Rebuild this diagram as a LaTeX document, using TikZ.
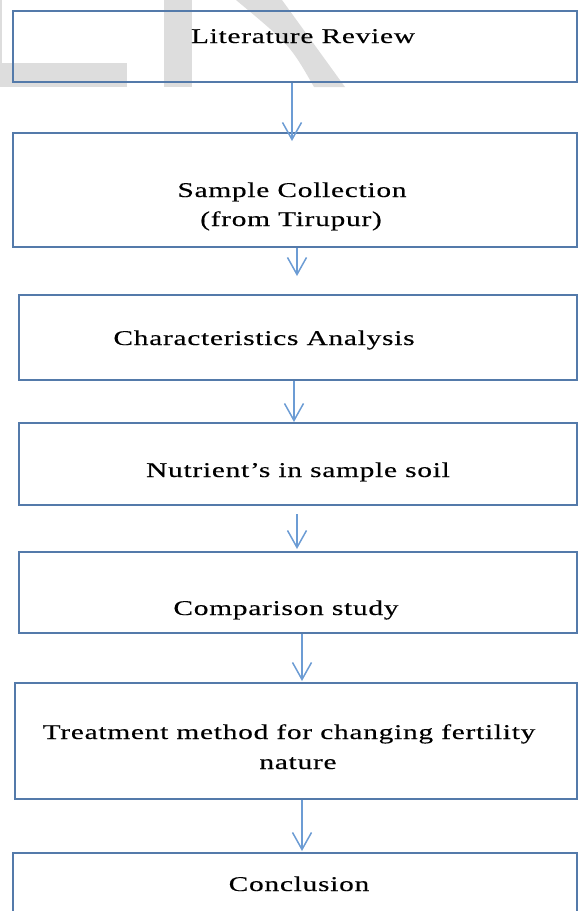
\documentclass[tikz,border=0pt]{standalone}
\usepackage{fontspec}
\setmainfont{Liberation Serif}[FakeStretch=1.4,LetterSpace=3.5,FakeBold=0.3]
\usetikzlibrary{arrows.meta}
\definecolor{boxc}{RGB}{84,122,170}
\definecolor{arrc}{RGB}{108,156,212}
\definecolor{wmc}{RGB}{221,221,221}
\begin{document}
\begin{tikzpicture}[x=1pt,y=-1pt,
  box/.style={draw=boxc, line width=2pt, inner sep=0pt, rectangle},
  lbl/.style={anchor=base, inner sep=0pt, font=\fontsize{21}{28}\selectfont, text=black},
  arr/.style={draw=arrc, line width=1.5pt, -{Straight Barb[length=17pt,width=19pt,line width=1.5pt]}},
  wmark/.style={fill=wmc, draw=none}]
\clip (0,0) rectangle (579,911);
% watermark fragments
\fill[wmark] (0,63) rectangle (127,87);
\fill[wmark] (0,0) rectangle (1.5,63);
\fill[wmark] (164,0) rectangle (192,87);
\fill[wmark] (236,0) -- (282,0) -- (345,87) -- (314,87) .. controls (290,45) .. cycle;
% boxes
\node[box, minimum width=564pt, minimum height=71pt]  (b1) at (295,46.5) {};
\node[box, minimum width=564pt, minimum height=114pt] (b2) at (295,190) {};
\node[box, minimum width=558pt, minimum height=85pt]  (b3) at (298,337.5) {};
\node[box, minimum width=558pt, minimum height=82pt]  (b4) at (298,464) {};
\node[box, minimum width=558pt, minimum height=81pt]  (b5) at (298,592.5) {};
\node[box, minimum width=562pt, minimum height=116pt] (b6) at (296,741) {};
\node[box, minimum width=564pt, minimum height=77pt]  (b7) at (295,891.5) {};
% labels
\node[lbl] (t1)  at (303,43)  {Literature Review};
\node[lbl] (t2a) at (292,197) {Sample Collection};
\node[lbl] (t2b) at (291,226) {(from Tirupur)};
\node[lbl] (t3)  at (264,345) {Characteristics Analysis};
\node[lbl] (t4)  at (298,477) {Nutrient’s in sample soil};
\node[lbl] (t5)  at (286,615) {Comparison study};
\node[lbl] (t6a) at (289,739) {Treatment method for changing fertility};
\node[lbl] (t6b) at (298,769) {nature};
\node[lbl] (t7)  at (299,891) {Conclusion};
% arrows
\draw[arr] ([xshift=-3pt]b1.south) -- ([xshift=-3pt,yshift=-9pt]b2.north);
\draw[arr] ([xshift=2pt]b2.south) -- ([xshift=-1pt,yshift=18pt]b3.north);
\draw[arr] ([xshift=-4pt]b3.south) -- ([xshift=-4pt]b4.north);
\draw[arr] ([xshift=-1pt,yshift=-8pt]b4.south) -- ([xshift=-1pt,yshift=2pt]b5.north);
\draw[arr] ([xshift=4pt]b5.south) -- ([xshift=6pt,yshift=1pt]b6.north);
\draw[arr] ([xshift=6pt]b6.south) -- ([xshift=7pt,yshift=1pt]b7.north);
\end{tikzpicture}
\end{document}
